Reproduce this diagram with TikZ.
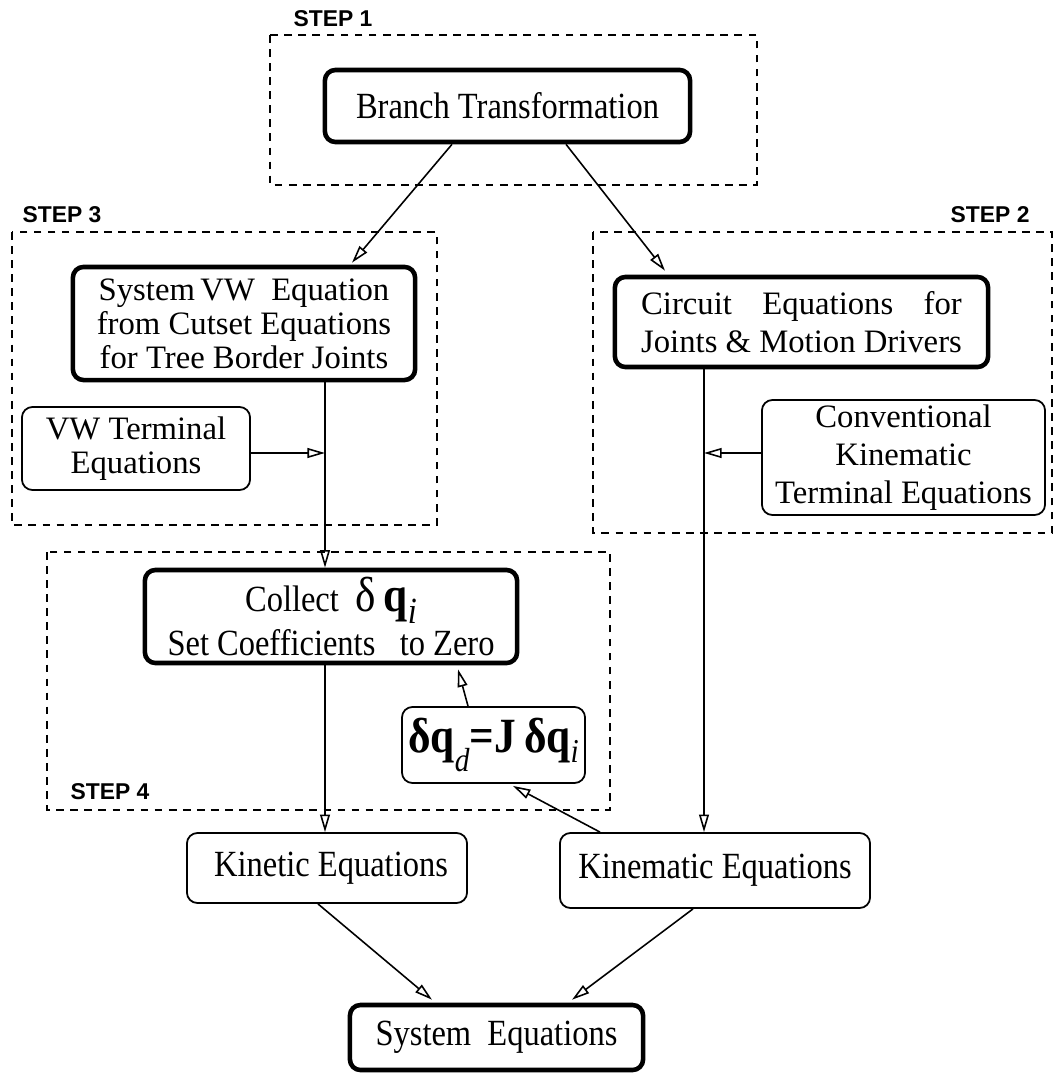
\documentclass[tikz,border=0pt]{standalone}
\usepackage{fontspec}
\usepackage{calc}
\setmainfont{Liberation Serif}[FakeStretch=0.88]
\newfontfamily\plainserif{Liberation Serif}
\newfontfamily\stepfont{Liberation Sans}
\usetikzlibrary{arrows.meta,calc}

\begin{document}
\begin{tikzpicture}[x=0.01cm,y=-0.01cm,font=\fontsize{10.5}{11.5}\selectfont,thickbox/.style={draw,line width=1.3pt,rounded corners=3pt,align=center,inner sep=0pt},thinbox/.style={draw,line width=0.5pt,rounded corners=3pt,align=center,inner sep=0pt},multiline/.style={font=\plainserif\fontsize{9.3}{#1}\selectfont},stepframe/.style={draw,line width=0.5pt,dash pattern=on 2.2pt off 1.8pt},steplabel/.style={font=\stepfont\fontsize{6.5}{7}\selectfont\bfseries,anchor=west,inner sep=0pt},arr/.style={-{Triangle[open,length=5pt,width=2.8pt]},line width=0.45pt}]
\useasboundingbox (0,0) rectangle (1057,1073);
% dashed step frames
\draw[stepframe] (270,35) rectangle (757,185);\draw[stepframe] (12,232) rectangle (437,525);\draw[stepframe] (593,232) rectangle (1052,533);\draw[stepframe] (47,552) rectangle (610,810);
\node[steplabel] (stepone) at (293,19){STEP 1};
\node[steplabel] (stepthree) at (22,215){STEP 3};
\node[steplabel] (steptwo) at (950,215){STEP 2};
\node[steplabel] (stepfour) at (70,792){STEP 4};
% boxes
\node[thickbox,minimum width=3.65cm,minimum height=0.72cm] (branch) at (507.5,106){Branch Transformation};
\node[thickbox,multiline=9.7pt,minimum width=3.42cm,minimum height=1.13cm] (sysvw) at (244,323.5){System\,VW\ \ Equation\\from Cutset Equations\\for Tree Border Joints};
\node[thinbox,multiline=9.5pt,minimum width=2.28cm,minimum height=0.83cm] (vwterm) at (136,448.5){VW Terminal\\Equations};
\node[thickbox,multiline=10.8pt,minimum width=3.73cm,minimum height=0.9cm] (circuit) at (801.5,322){\makebox[\widthof{Joints \& Motion Drivers}][s]{Circuit\hfill Equations\hfill for}\\Joints \& Motion Drivers};
\node[thinbox,multiline=10.8pt,minimum width=2.83cm,minimum height=1.15cm] (conv) at (903.5,457.5){Conventional\\Kinematic\\Terminal\ Equations};
\node[thickbox,minimum width=3.72cm,minimum height=0.93cm] (collect) at (331,616.5){Collect\ \ {\fontsize{14}{14}\selectfont δ\,\textbf{q}}\raisebox{-0.7ex}{\itshape i}\\[1pt]Set Coefficients\ \ \ to Zero};
\node[thinbox,minimum width=1.83cm,minimum height=0.76cm] (deltaq) at (493.5,745){{\fontsize{14}{14}\selectfont\bfseries δq\raisebox{-0.8ex}{\fontsize{9.5}{9.5}\selectfont\mdseries\itshape d}=J\,δq\raisebox{-0.4ex}{\fontsize{9.5}{9.5}\selectfont\mdseries\itshape i}}};
\node[thinbox,minimum width=2.8cm,minimum height=0.7cm] (kinetic) at (327,868){\ Kinetic Equations};
\node[thinbox,minimum width=3.1cm,minimum height=0.75cm] (kinematic) at (715,870.5){Kinematic Equations};
\node[thickbox,minimum width=2.93cm,minimum height=0.65cm] (syseq) at (496.5,1037.5){System\ \ Equations};
% taps on the vertical lines
\coordinate (tapleft) at (325,453);\coordinate (tapright) at (704,453);
% connectors
\draw[arr] ($(branch.south)+(-55.5,0)$) -- ($(sysvw.north)+(108,-2)$);\draw[arr] ($(branch.south)+(58.5,0)$) -- ($(circuit.north)+(-136.5,-4)$);
\draw[arr] (tapleft |- sysvw.south) -- (tapleft |- collect.north);\draw[arr] (vwterm.east |- tapleft) -- (tapleft);
\draw[arr] (tapright |- circuit.south) -- (tapright |- kinematic.north);\draw[arr] (conv.west |- tapright) -- (tapright);
\draw[arr] (tapleft |- collect.south) -- (tapleft |- kinetic.north);
\draw[arr] ($(deltaq.north)+(-25.5,0)$) -- ($(collect.south)+(127,4)$);
\draw[arr] ($(kinematic.north)+(-115,0)$) -- ($(deltaq.south)+(19.5,2)$);
\draw[arr] ($(kinetic.south)+(-9,0)$) -- ($(syseq.north)+(-64.5,-3)$);\draw[arr] ($(kinematic.south)+(-22,0)$) -- ($(syseq.north)+(75.5,-3)$);
\end{tikzpicture}
\end{document}
